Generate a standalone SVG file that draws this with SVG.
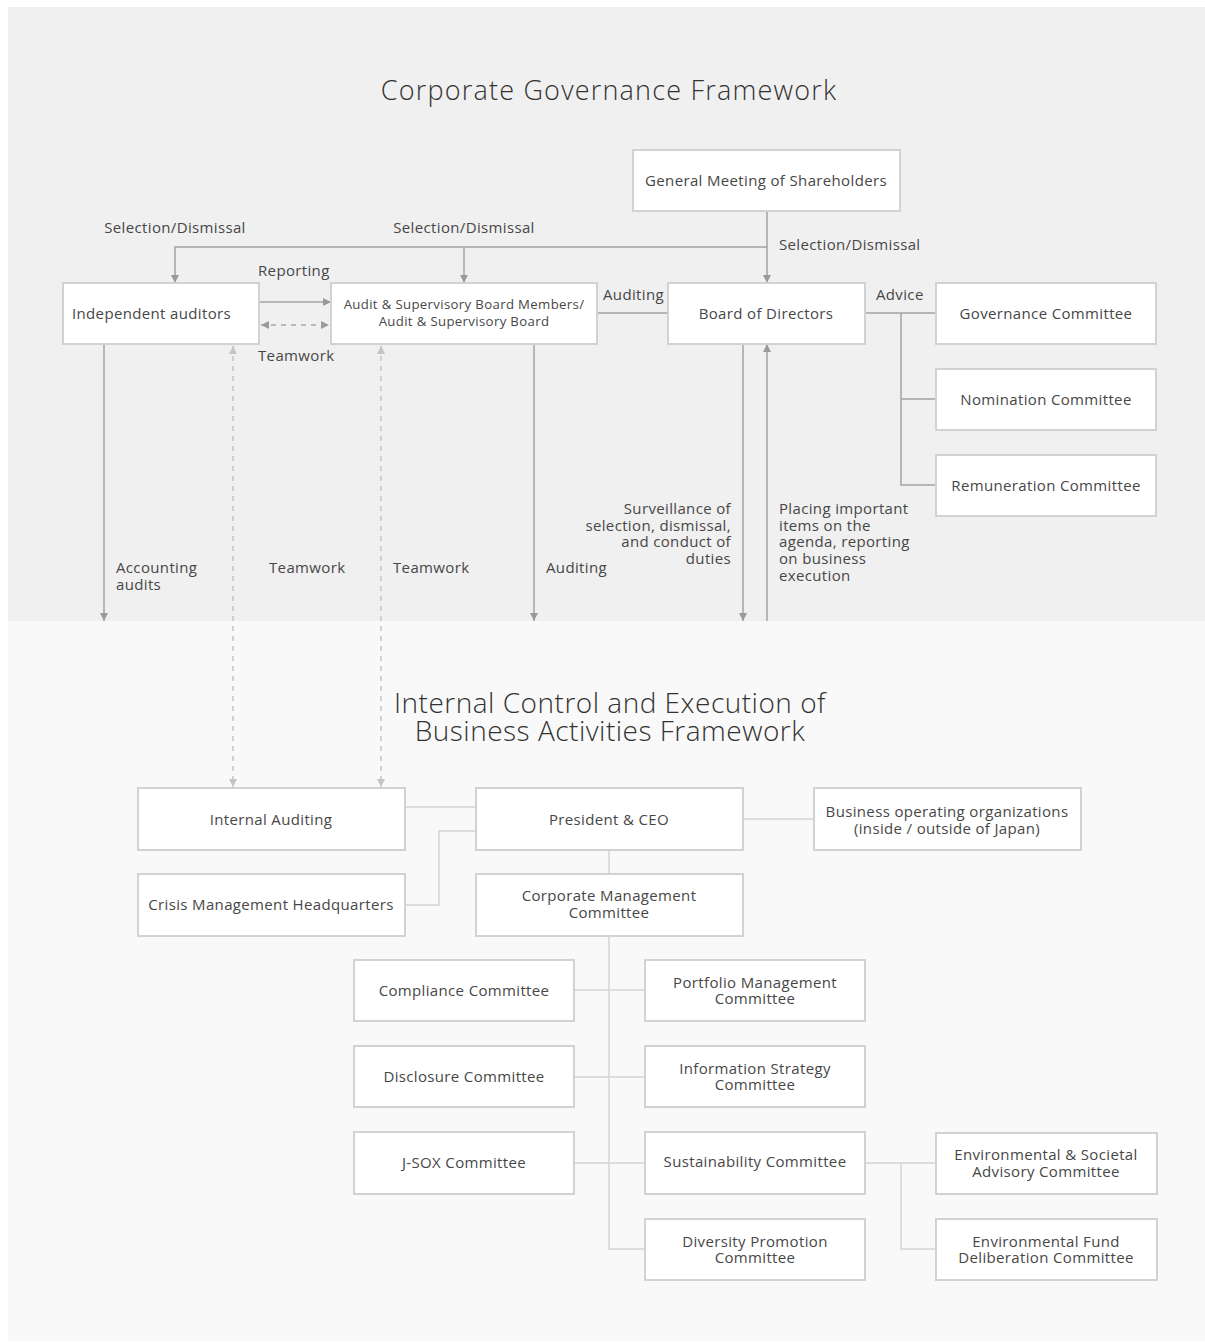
<svg xmlns="http://www.w3.org/2000/svg" width="1205" height="1342" viewBox="0 0 1205 1342">
<style>
text{font-family:"Open Sans","Noto Sans","DejaVu Sans",sans-serif;fill:#474747;font-size:15px;letter-spacing:0.35px}
.t{text-anchor:middle}
.sm{font-size:13.2px}
.title{font-size:27px;text-anchor:middle;font-weight:300;fill:#333;letter-spacing:1.2px}
.title2{font-size:28px;letter-spacing:0.5px}
.box{fill:#fff;stroke:#d2d2d2;stroke-width:2}
.ln{fill:none;stroke:#a3a3a3;stroke-width:1.5}
.lnl{fill:none;stroke:#d4d4d4;stroke-width:1.5}
.dash{fill:none;stroke:#a8a8a8;stroke-width:1.5;stroke-dasharray:5 5}
.dashl{fill:none;stroke:#c4c4c4;stroke-width:1.5;stroke-dasharray:5 5}
</style>
<defs>
<marker id="ah" viewBox="0 0 10 10" refX="10" refY="5" markerWidth="8" markerHeight="8" markerUnits="userSpaceOnUse" orient="auto-start-reverse"><path d="M0,0 L10,5 L0,10 z" fill="#9a9a9a"/></marker>
<marker id="ahl" viewBox="0 0 10 10" refX="10" refY="5" markerWidth="8" markerHeight="8" markerUnits="userSpaceOnUse" orient="auto-start-reverse"><path d="M0,0 L10,5 L0,10 z" fill="#c4c4c4"/></marker>
</defs>
<rect x="0" y="0" width="1205" height="1342" fill="#fff"/>
<rect x="8" y="7" width="1197" height="614" fill="#f0f0f0"/>
<rect x="8" y="621" width="1197" height="720" fill="#f9f9f9"/>

<text class="title" x="609" y="100">Corporate Governance Framework</text>
<text class="title title2" x="610" y="713">Internal Control and Execution of</text>
<text class="title title2" x="610" y="741">Business Activities Framework</text>

<g id="connectors">
<path class="ln" d="M767,211 V283" marker-end="url(#ah)"/>
<path class="ln" d="M767,247 H175 V283" marker-end="url(#ah)"/>
<path class="ln" d="M464,247 V283" marker-end="url(#ah)"/>
<path class="ln" d="M259,302 H331" marker-end="url(#ah)"/>
<path class="dash" d="M261,325 H329" marker-start="url(#ah)" marker-end="url(#ah)"/>
<path class="ln" d="M597,313 H668"/>
<path class="ln" d="M865,313 H936 M901,313 V485 H936 M901,399 H936"/>
<path class="ln" d="M104,344 V621" marker-end="url(#ah)"/>
<path class="dashl" d="M233,346 V787" marker-start="url(#ahl)" marker-end="url(#ahl)"/>
<path class="dashl" d="M381,346 V787" marker-start="url(#ahl)" marker-end="url(#ahl)"/>
<path class="ln" d="M534,344 V621" marker-end="url(#ah)"/>
<path class="ln" d="M743,344 V621" marker-end="url(#ah)"/>
<path class="ln" d="M767,621 V344" marker-end="url(#ah)"/>

<path class="lnl" d="M405,807 H476"/>
<path class="lnl" d="M405,905 H439 V831 H476"/>
<path class="lnl" d="M743,819 H814"/>
<path class="lnl" d="M609,850 V874"/>
<path class="lnl" d="M609,936 V1249 H645"/>
<path class="lnl" d="M574,990 H645 M574,1077 H645 M574,1163 H645"/>
<path class="lnl" d="M865,1163 H936 M901,1163 V1249 H936"/>
</g>

<g id="labels">
<text class="t" x="175" y="233">Selection/Dismissal</text>
<text class="t" x="464" y="233">Selection/Dismissal</text>
<text x="779" y="250">Selection/Dismissal</text>
<text x="258" y="276">Reporting</text>
<text x="258" y="361">Teamwork</text>
<text x="603" y="300">Auditing</text>
<text x="876" y="300">Advice</text>
<text x="116" y="573">Accounting</text>
<text x="116" y="590">audits</text>
<text x="269" y="573">Teamwork</text>
<text x="393" y="573">Teamwork</text>
<text x="546" y="573">Auditing</text>
<text x="731" y="514" text-anchor="end">Surveillance of</text>
<text x="731" y="531" text-anchor="end">selection, dismissal,</text>
<text x="731" y="547" text-anchor="end">and conduct of</text>
<text x="731" y="564" text-anchor="end">duties</text>
<text x="779" y="514">Placing important</text>
<text x="779" y="531">items on the</text>
<text x="779" y="547">agenda, reporting</text>
<text x="779" y="564">on business</text>
<text x="779" y="581">execution</text>
</g>

<g id="n-gms"><rect class="box" x="633" y="150" width="267" height="61"/><text class="t" x="766" y="186">General Meeting of Shareholders</text></g>
<g id="n-ia"><rect class="box" x="63" y="283" width="196" height="61"/><text x="72" y="319">Independent auditors</text></g>
<g id="n-asb"><rect class="box" x="331" y="283" width="266" height="61"/><text class="t sm" x="464" y="309">Audit &amp; Supervisory Board Members/</text><text class="t sm" x="464" y="326">Audit &amp; Supervisory Board</text></g>
<g id="n-bod"><rect class="box" x="668" y="283" width="197" height="61"/><text class="t" x="766" y="319">Board of Directors</text></g>
<g id="n-gov"><rect class="box" x="936" y="283" width="220" height="61"/><text class="t" x="1046" y="319">Governance Committee</text></g>
<g id="n-nom"><rect class="box" x="936" y="369" width="220" height="61"/><text class="t" x="1046" y="405">Nomination Committee</text></g>
<g id="n-rem"><rect class="box" x="936" y="455" width="220" height="61"/><text class="t" x="1046" y="491">Remuneration Committee</text></g>

<g id="n-intaud"><rect class="box" x="138" y="788" width="267" height="62"/><text class="t" x="271" y="825">Internal Auditing</text></g>
<g id="n-ceo"><rect class="box" x="476" y="788" width="267" height="62"/><text class="t" x="609" y="825">President &amp; CEO</text></g>
<g id="n-bus"><rect class="box" x="814" y="788" width="267" height="62"/><text class="t" x="947" y="817">Business operating organizations</text><text class="t" x="947" y="834">(inside / outside of Japan)</text></g>
<g id="n-crisis"><rect class="box" x="138" y="874" width="267" height="62"/><text class="t" x="271" y="910">Crisis Management Headquarters</text></g>
<g id="n-cmc"><rect class="box" x="476" y="874" width="267" height="62"/><text class="t" x="609" y="901">Corporate Management</text><text class="t" x="609" y="918">Committee</text></g>
<g id="n-comp"><rect class="box" x="354" y="960" width="220" height="61"/><text class="t" x="464" y="996">Compliance Committee</text></g>
<g id="n-port"><rect class="box" x="645" y="960" width="220" height="61"/><text class="t" x="755" y="988">Portfolio Management</text><text class="t" x="755" y="1004">Committee</text></g>
<g id="n-disc"><rect class="box" x="354" y="1046" width="220" height="61"/><text class="t" x="464" y="1082">Disclosure Committee</text></g>
<g id="n-info"><rect class="box" x="645" y="1046" width="220" height="61"/><text class="t" x="755" y="1074">Information Strategy</text><text class="t" x="755" y="1090">Committee</text></g>
<g id="n-jsox"><rect class="box" x="354" y="1132" width="220" height="62"/><text class="t" x="464" y="1168">J-SOX Committee</text></g>
<g id="n-sus"><rect class="box" x="645" y="1132" width="220" height="62"/><text class="t" x="755" y="1167">Sustainability Committee</text></g>
<g id="n-div"><rect class="box" x="645" y="1219" width="220" height="61"/><text class="t" x="755" y="1247">Diversity Promotion</text><text class="t" x="755" y="1263">Committee</text></g>
<g id="n-envsoc"><rect class="box" x="936" y="1133" width="221" height="61"/><text class="t" x="1046" y="1160">Environmental &amp; Societal</text><text class="t" x="1046" y="1177">Advisory Committee</text></g>
<g id="n-envfund"><rect class="box" x="936" y="1219" width="221" height="61"/><text class="t" x="1046" y="1247">Environmental Fund</text><text class="t" x="1046" y="1263">Deliberation Committee</text></g>
</svg>
